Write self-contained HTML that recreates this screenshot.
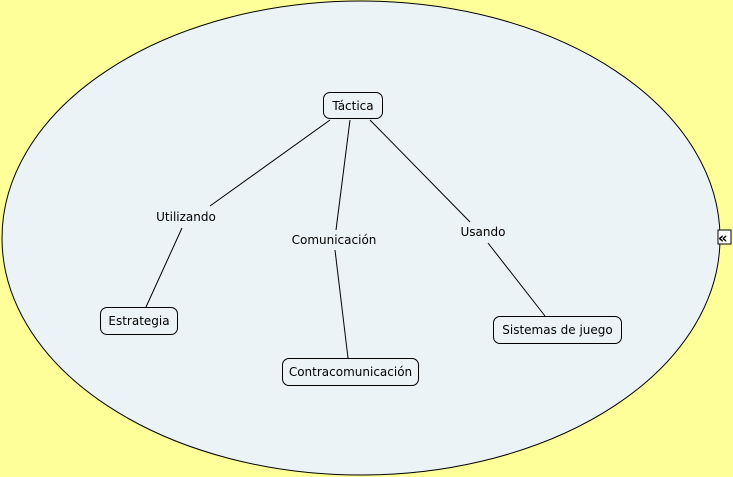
<!DOCTYPE html>
<html><head><style>
body{margin:0;width:733px;height:477px;background:#ffff99;position:relative;overflow:hidden;font-family:"DejaVu Sans","Liberation Sans",sans-serif;font-size:12px;color:#000}
.n{position:absolute;border:1px solid #000;border-radius:7px;background:#ecf3f6;display:flex;align-items:center;justify-content:center;box-sizing:border-box}
.l{position:absolute;background:#ecf3f6;transform:translate(-50%,-50%);white-space:nowrap;padding:1px 2px}
</style></head><body>
<svg width="733" height="477" style="position:absolute;left:0;top:0">
<ellipse cx="361" cy="238" rx="359" ry="237" fill="#ecf3f6" stroke="#000" stroke-width="1"/>
<g stroke="#000" stroke-width="1">
<line x1="330" y1="120" x2="210" y2="206"/>
<line x1="182" y1="228" x2="146" y2="307"/>
<line x1="350" y1="120" x2="336" y2="230"/>
<line x1="335" y1="250" x2="348" y2="358"/>
<line x1="370" y1="120" x2="470" y2="222"/>
<line x1="488" y1="243" x2="545" y2="316"/>
</g>
<rect x="718" y="230" width="13" height="14" fill="#fff" stroke="#000"/>
<text x="718" y="243" font-size="15" font-weight="bold" font-family="DejaVu Sans">«</text>
</svg>
<div class="n" style="left:323px;top:92px;width:60px;height:27px">Táctica</div>
<div class="n" style="left:100px;top:307px;width:78px;height:28px">Estrategia</div>
<div class="n" style="left:282px;top:358px;width:137px;height:28px">Contracomunicación</div>
<div class="n" style="left:493px;top:316px;width:129px;height:28px">Sistemas de juego</div>
<div class="l" style="left:186px;top:217px">Utilizando</div>
<div class="l" style="left:334px;top:240px">Comunicación</div>
<div class="l" style="left:483px;top:232px">Usando</div>
</body></html>
